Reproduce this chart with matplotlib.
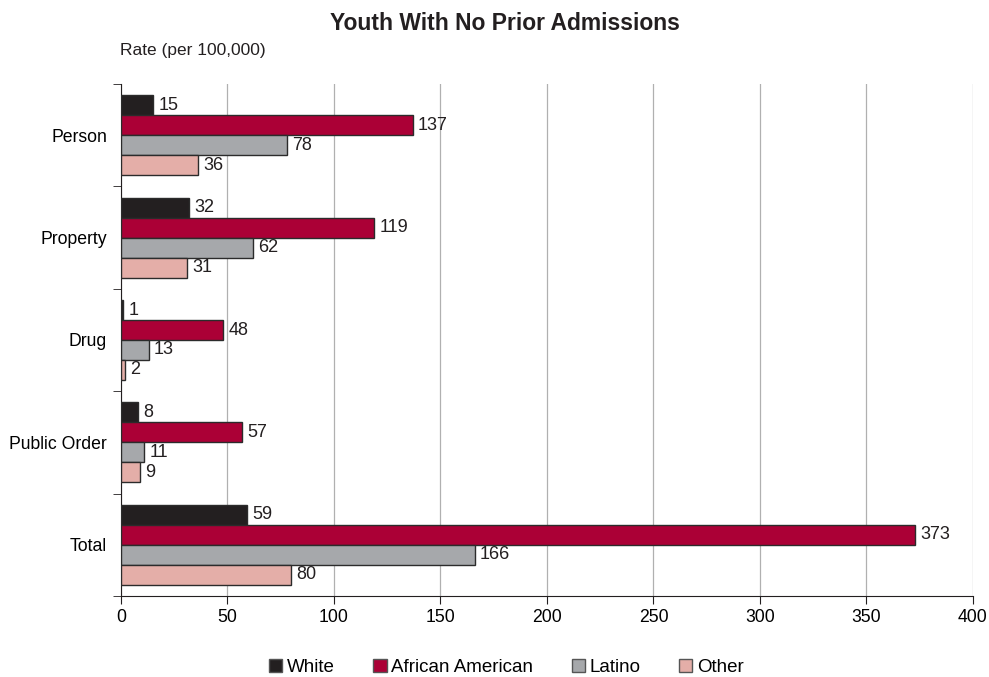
import numpy as np
import matplotlib.pyplot as plt
from matplotlib.patches import Patch

plt.rcParams['font.family'] = ['Liberation Sans', 'DejaVu Sans']

categories = ['Person', 'Property', 'Drug', 'Public Order', 'Total']
groups = ['White', 'African American', 'Latino', 'Other']
white = [15, 32, 1, 8, 59]
african_american = [137, 119, 48, 57, 373]
latino = [78, 62, 13, 11, 166]
other = [36, 31, 2, 9, 80]

series = [white, african_american, latino, other]
colors = ['#231f20', '#ab0036', '#a6a8ab', '#e4aea8']

fig = plt.figure(figsize=(9.89, 6.77), dpi=100)
ax = fig.add_axes([0.1223, 0.1196, 0.8615, 0.7564])

y = np.arange(len(categories))
h = 0.195
for i, (vals, col) in enumerate(zip(series, colors)):
    pos = y - 1.5 * h + i * h
    ax.barh(pos, vals, height=h, color=col, edgecolor='#2b2b2b',
            linewidth=1.0, zorder=3)
    for p, v in zip(pos, vals):
        ax.text(v + 2.5, p, str(v), va='center', ha='left', fontsize=13,
                color='#231f20', zorder=4)

ax.set_xlim(0, 400)
ax.set_ylim(len(categories) - 0.5, -0.5)
ax.set_xticks(np.arange(0, 401, 50))
ax.set_yticks(y)
ax.set_yticklabels(categories, fontsize=12.7)
ax.set_yticks(np.arange(-0.5, len(categories)), minor=True)
ax.tick_params(axis='y', which='major', length=0, pad=10)
ax.tick_params(axis='y', which='minor', length=6, direction='out',
               color='#231f20')
ax.tick_params(axis='x', labelsize=12.7, length=6, direction='out',
               color='#231f20')
ax.xaxis.grid(True, color='#b0b0b0', linewidth=0.9, zorder=0)
for s in ['top', 'right']:
    ax.spines[s].set_visible(False)
ax.spines['left'].set_color('#231f20')
ax.spines['bottom'].set_color('#231f20')

fig.text(0.511, 0.966, 'Youth With No Prior Admissions', ha='center',
         va='center', fontsize=16.5, fontweight='bold', color='#231f20')
fig.text(0.121, 0.926, 'Rate (per 100,000)', ha='left', va='center',
         fontsize=12.5, color='#231f20')

handles = [Patch(facecolor=c, edgecolor='#555555', linewidth=1.0) for c in colors]
fig.legend(handles, groups, loc='center', bbox_to_anchor=(0.512, 0.014),
           ncol=4, frameon=False, fontsize=13.5, handlelength=0.7,
           handleheight=0.7, handletextpad=0.25, columnspacing=2.05)

fig.savefig('out.png', dpi=100)
